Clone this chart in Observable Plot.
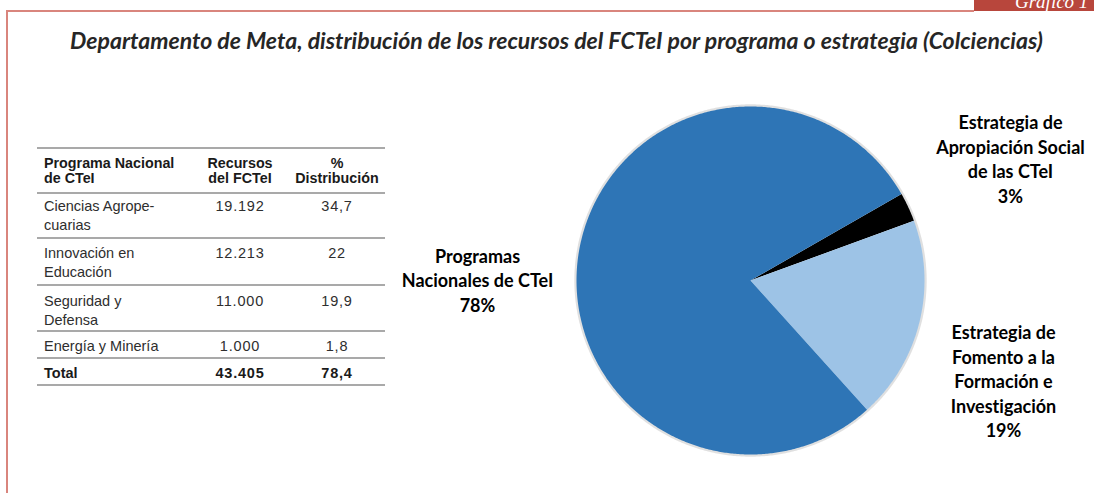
<!DOCTYPE html>
<html><head><meta charset="utf-8">
<script src="https://cdn.jsdelivr.net/npm/d3@7"></script>
<script src="https://cdn.jsdelivr.net/npm/@observablehq/plot@0.6"></script>
<style>
body{margin:0;background:#fff;}
#wrap{position:relative;width:1094px;height:493px;overflow:hidden;background:#fff;font-family:"Liberation Sans",Arial,sans-serif;}
#wrap svg{position:absolute;left:0;top:0;}
#wrap svg text{font-variant-ligatures:none;}
.abs{position:absolute;}
#title{position:absolute;top:25px;left:0;white-space:nowrap;font-family:Lato,sans-serif;font-weight:700;font-style:italic;font-size:23px;line-height:30px;color:#262626;transform-origin:0 0;font-variant-ligatures:none;}
.hline{position:absolute;left:37px;width:348px;height:2px;background:#a9a9a9;}
.cell{position:absolute;font-size:14.5px;line-height:19px;color:#2e2e2e;white-space:nowrap;}
.hdr{font-weight:700;line-height:15px;color:#1a1a1a;font-size:14.3px;}
.c2,.c3{text-align:center;width:100px;}
.num{letter-spacing:0.8px;}
.bold{font-weight:700;color:#1a1a1a;}
</style></head><body><div id="wrap"></div>
<script>
// ---- data ----
const sliceNames = ["Estrategia de Apropiación Social de las CTeI", "Estrategia de Fomento a la Formación e Investigación", "Programas Nacionales de CTeI"];
const sliceValues = [2.7, 18.9, 78.4];
const sliceLabelText = ["Estrategia de\nApropiación Social\nde las CTeI", "Estrategia de\nFomento a la\nFormación e\nInvestigación", "Programas\nNacionales de CTeI"];
const slicePercentLabels = ["3%", "19%", "78%"];

const tableHeaders = ["Programa Nacional\nde CTeI", "Recursos\ndel FCTeI", "%\nDistribución"];
const tablePrograms = ["Ciencias Agrope-\ncuarias", "Innovación en\nEducación", "Seguridad y\nDefensa", "Energía y Minería"];
const tableRecursos = ["19.192", "12.213", "11.000", "1.000"];
const tableDistribucion = ["34,7", "22", "19,9", "1,8"];
const tableTotal = ["Total", "43.405", "78,4"];
const titleText = "Departamento de Meta, distribución de los recursos del FCTeI por programa o estrategia (Colciencias)";

// ---- styles / layout ----
const sliceColors = ["#000000", "#9DC3E6", "#2E75B6"];
const W = 1094, H = 493, cx = 750, cy = 280, R = 174;
const startDeg = 60.2;
const labelX = [1.494, 1.454, -1.569];
const labelY = [0.704, -0.575, 0.005];
const rowLines = [148, 193, 238, 285, 331, 358, 385];
const rowTops = [197, 243.5, 291.5, 337, 363.5];
const colX = [44, 190, 287];

const wrap = document.getElementById("wrap");

// pie slices
const arcs = d3.pie().sort(null).value(d => d)
  .startAngle(startDeg * Math.PI / 180).endAngle(startDeg * Math.PI / 180 + 2 * Math.PI)(sliceValues);
const pts = [];
arcs.forEach((a, i) => {
  const name = sliceNames[i];
  pts.push({name, x: 0, y: 0});
  const n = Math.max(2, Math.ceil((a.endAngle - a.startAngle) / (Math.PI / 360)));
  for (let k = 0; k <= n; k++) {
    const t = a.startAngle + (a.endAngle - a.startAngle) * k / n;
    pts.push({name, x: Math.sin(t), y: Math.cos(t)});
  }
  pts.push({name, x: 0, y: 0});
});
const ring = d3.range(0, 721).map(k => ({x: 1.004 * Math.sin(k * Math.PI / 360), y: 1.004 * Math.cos(k * Math.PI / 360)}));
const labels = sliceNames.map((n, i) => ({name: n, text: sliceLabelText[i] + "\n" + slicePercentLabels[i], x: labelX[i], y: labelY[i]}));

const plot = Plot.plot({
  width: W, height: H,
  marginLeft: cx - R, marginRight: W - (cx + R), marginTop: cy - R, marginBottom: H - (cy + R),
  x: {domain: [-1, 1], axis: null},
  y: {domain: [-1, 1], axis: null},
  color: {domain: sliceNames, range: sliceColors},
  style: {background: "transparent", overflow: "visible"},
  marks: [
    Plot.line(ring, {x: "x", y: "y", stroke: "#000", strokeOpacity: 0.12, strokeWidth: 3}),
    Plot.line(pts, {x: "x", y: "y", z: "name", fill: "name", stroke: "none"}),
    Plot.text(labels, {x: "x", y: "y", text: "text", lineAnchor: "middle", textAnchor: "middle", lineHeight: 1.36,
      fontFamily: "Lato, sans-serif", fontWeight: 700, fontSize: 18, fill: "#000"})
  ]
});
wrap.appendChild(plot);

// frame
function box(l, t, w, h, bg) { const d = document.createElement("div"); d.className = "abs"; Object.assign(d.style, {left: l + "px", top: t + "px", width: w + "px", height: h + "px", background: bg}); wrap.appendChild(d); return d; }
box(6, 10, 968, 2, "#d9857d");
box(6, 10, 2, 483, "#d9857d");
const tag = box(974, 0, 120, 11, "#b8463c");
tag.style.overflow = "hidden";
const tagT = document.createElement("div");
tagT.textContent = "Gráfico 1";
Object.assign(tagT.style, {position: "absolute", left: "41px", top: "-8px", fontFamily: "'Liberation Serif',serif", fontStyle: "italic", fontSize: "19px", lineHeight: "19px", color: "#fff", whiteSpace: "nowrap"});
tag.appendChild(tagT);

// title
const title = document.createElement("div");
title.id = "title"; title.textContent = titleText;
wrap.appendChild(title);
const tw = title.getBoundingClientRect().width;
const targetW = 973;
title.style.left = "70px";
title.style.transform = `scaleX(${targetW / tw})`;

// table
rowLines.forEach(y => { const d = document.createElement("div"); d.className = "hline"; d.style.top = (y - 1) + "px"; wrap.appendChild(d); });
function cell(txt, x, y, cls) {
  const d = document.createElement("div");
  d.className = "cell " + cls;
  d.style.left = x + "px"; d.style.top = y + "px";
  txt.split("\n").forEach((line, i) => { if (i) d.appendChild(document.createElement("br")); d.appendChild(document.createTextNode(line)); });
  wrap.appendChild(d);
}
tableHeaders.forEach((h, j) => cell(h, colX[j], 155.5, "hdr" + (j ? " c" + (j + 1) : "")));
tablePrograms.forEach((p, i) => {
  cell(p, colX[0], rowTops[i], "");
  cell(tableRecursos[i], colX[1], rowTops[i], "c2 num");
  cell(tableDistribucion[i], colX[2], rowTops[i], "c3 num");
});
tableTotal.forEach((t, j) => cell(t, colX[j], rowTops[4], "bold" + (j ? " c" + (j + 1) + " num" : "")));
</script>
</body></html>
